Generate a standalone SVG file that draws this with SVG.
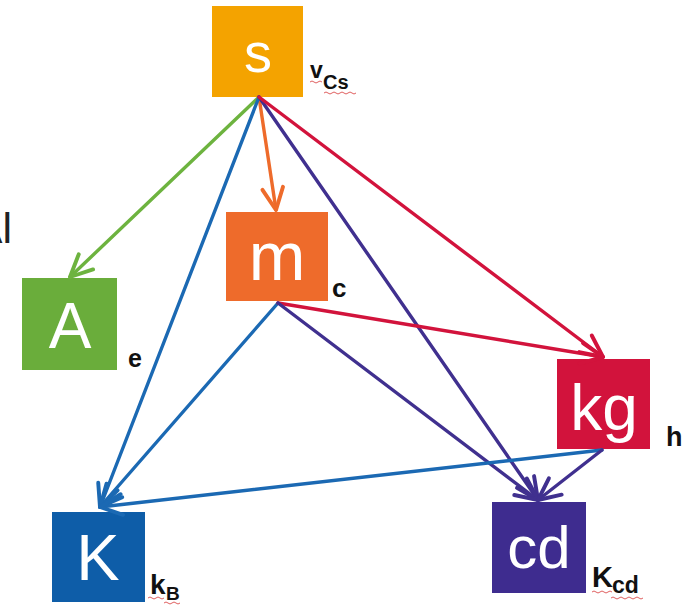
<svg xmlns="http://www.w3.org/2000/svg" width="687" height="605" viewBox="0 0 687 605">
<style>
.nt{font-family:"Liberation Sans",Arial,sans-serif;fill:#fff;text-anchor:middle}
.lb{font-family:"Liberation Sans",Arial,sans-serif;font-weight:bold;fill:#111}
.c{fill:none;stroke-width:3.4;stroke-linecap:round}
.sq{fill:none;stroke:#e06060;stroke-width:1}
</style>
<defs>
<marker id="aG" markerUnits="userSpaceOnUse" markerWidth="30" markerHeight="30" viewBox="-22 -12 26 24" refX="0" refY="0" orient="auto"><path d="M-19,-9 L0,0 L-19,9" fill="none" stroke="#6DB33F" stroke-width="3.4" stroke-linecap="round" stroke-linejoin="round"/></marker>
<marker id="aO" markerUnits="userSpaceOnUse" markerWidth="30" markerHeight="30" viewBox="-22 -12 26 24" refX="0" refY="0" orient="auto"><path d="M-19,-9 L0,0 L-19,9" fill="none" stroke="#EE6B2B" stroke-width="3.4" stroke-linecap="round" stroke-linejoin="round"/></marker>
<marker id="aB" markerUnits="userSpaceOnUse" markerWidth="30" markerHeight="30" viewBox="-22 -12 26 24" refX="0" refY="0" orient="auto"><path d="M-19,-9 L0,0 L-19,9" fill="none" stroke="#1B69B3" stroke-width="3.4" stroke-linecap="round" stroke-linejoin="round"/></marker>
<marker id="aP" markerUnits="userSpaceOnUse" markerWidth="30" markerHeight="30" viewBox="-22 -12 26 24" refX="0" refY="0" orient="auto"><path d="M-19,-9 L0,0 L-19,9" fill="none" stroke="#40308F" stroke-width="3.4" stroke-linecap="round" stroke-linejoin="round"/></marker>
<marker id="aR" markerUnits="userSpaceOnUse" markerWidth="30" markerHeight="30" viewBox="-22 -12 26 24" refX="0" refY="0" orient="auto"><path d="M-19,-9 L0,0 L-19,9" fill="none" stroke="#D2133C" stroke-width="3.4" stroke-linecap="round" stroke-linejoin="round"/></marker>
</defs>
<rect width="687" height="605" fill="#fff"/>
<text x="12" y="243" font-family="Liberation Sans,Arial,sans-serif" font-size="43" fill="#222" text-anchor="end">Al</text>
<g id="node-s">
<rect x="212" y="6" width="91" height="91" fill="#F4A300"/>
<text class="nt" x="258" y="72" font-size="56">s</text>
<text class="lb" x="310" y="78" font-size="23">v</text>
<text class="lb" x="323" y="89" font-size="20">Cs</text>
<path class="sq" d="M310,82 q2,-2 4,0 t4,0 t4,0 M324,93 q2,-2 4,0 t4,0 t4,0 t4,0 t4,0 t4,0 t4,0 t4,0"/>
</g>
<g id="node-A">
<rect x="22" y="278" width="95" height="92" fill="#6AAD3B"/>
<text class="nt" x="70" y="348" font-size="64">A</text>
<text class="lb" x="128" y="367" font-size="25">e</text>
</g>
<g id="node-m">
<rect x="226" y="212" width="102" height="89" fill="#EE6B2B"/>
<text class="nt" x="277" y="280" font-size="68">m</text>
<text class="lb" x="332" y="297" font-size="26">c</text>
</g>
<g id="node-kg">
<rect x="557" y="359" width="93" height="90" fill="#D2133C"/>
<text class="nt" x="604" y="430" font-size="64">kg</text>
<text class="lb" x="666" y="446" font-size="27">h</text>
</g>
<g id="node-K">
<rect x="52" y="512" width="93" height="90" fill="#0E5DA8"/>
<text class="nt" x="98" y="580" font-size="65">K</text>
<text class="lb" x="150" y="594" font-size="28">k</text>
<text class="lb" x="166" y="600" font-size="19">B</text>
<path class="sq" d="M148,598 q2,-2 4,0 t4,0 t4,0 t4,0 M164,603 q2,-2 4,0 t4,0 t4,0 t4,0"/>
</g>
<g id="node-cd">
<rect x="492" y="502" width="94" height="91" fill="#3E2C8F"/>
<text class="nt" x="539" y="568" font-size="60">cd</text>
<text class="lb" x="592" y="587" font-size="29">K</text>
<text class="lb" x="612" y="593" font-size="23">cd</text>
<path class="sq" d="M592,592 q2,-2 4,0 t4,0 t4,0 t4,0 t4,0 M611,598 q2,-2 4,0 t4,0 t4,0 t4,0 t4,0 t4,0 t4,0 t4,0"/>
</g>
<g id="connectors">
<line class="c" x1="259" y1="97" x2="70" y2="277" stroke="#6DB33F" marker-end="url(#aG)"/>
<line class="c" x1="259" y1="97" x2="276" y2="210" stroke="#EE6B2B" marker-end="url(#aO)"/>
<line class="c" x1="259" y1="97" x2="100" y2="507" stroke="#1B69B3" marker-end="url(#aB)"/>
<line class="c" x1="259" y1="97" x2="538" y2="500" stroke="#40308F" marker-end="url(#aP)"/>
<line class="c" x1="259" y1="97" x2="603" y2="357" stroke="#D2133C" marker-end="url(#aR)"/>
<line class="c" x1="278" y1="303" x2="100" y2="507" stroke="#1B69B3" marker-end="url(#aB)"/>
<line class="c" x1="278" y1="303" x2="603" y2="357" stroke="#D2133C" marker-end="url(#aR)"/>
<line class="c" x1="278" y1="303" x2="538" y2="500" stroke="#40308F" marker-end="url(#aP)"/>
<line class="c" x1="602" y1="450" x2="100" y2="507" stroke="#1B69B3" marker-end="url(#aB)"/>
<line class="c" x1="602" y1="450" x2="538" y2="500" stroke="#40308F" marker-end="url(#aP)"/>
</g>
</svg>
